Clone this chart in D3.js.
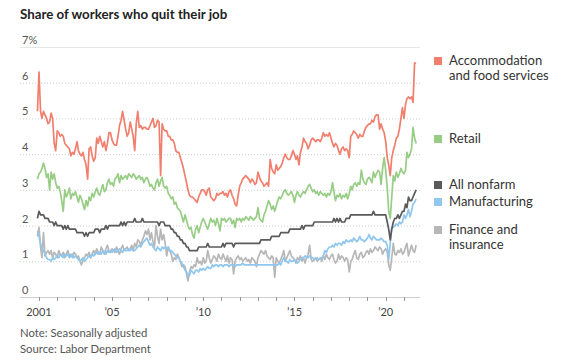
<!DOCTYPE html>
<html><head><meta charset="utf-8">
<script src="https://cdn.jsdelivr.net/npm/d3@7"></script>
<style>
body{margin:0;background:#fff;}
svg{display:block;font-family:Lato,"Noto Sans",sans-serif;}
</style></head><body>
<svg id="chart" width="564" height="360"></svg>
<script>
// ---- data (monthly, Dec 2000 – Sep 2021) ----
const startMonth = "2000-12";
const accommodation = [5.2,
6.3,5.2,5.0,5.2,5.1,5.0,4.85,4.9,5.15,5.0,4.3,4.1,
4.65,4.6,4.5,4.55,4.5,4.3,4.25,4.2,4.15,3.95,4.05,4.0,
4.15,4.35,4.1,4.0,3.95,4.05,3.85,3.7,3.3,4.15,4.2,3.95,
3.8,3.9,4.45,4.3,4.5,4.35,4.2,4.35,4.1,4.3,4.6,4.6,
4.4,4.3,4.25,4.25,4.5,4.8,4.95,5.2,4.95,4.7,4.5,4.6,
4.9,4.7,4.5,4.1,4.85,5.2,4.75,4.8,4.7,4.75,4.75,4.7,
4.7,4.8,4.9,5.0,4.75,4.8,4.95,4.9,3.4,4.85,4.7,4.65,
4.65,4.5,4.5,4.4,4.4,4.3,4.1,4.05,4.05,3.9,3.75,3.6,
3.4,3.2,3.0,2.85,2.8,2.8,2.75,2.7,2.65,2.8,2.9,3.0,
3.0,2.95,2.85,3.0,3.05,2.8,2.75,2.7,2.75,2.9,2.85,2.9,
2.9,2.95,2.85,2.9,2.8,2.95,3.0,2.85,2.75,2.6,2.55,2.85,
3.1,3.2,3.3,3.35,3.4,3.35,3.3,3.2,3.3,3.25,3.15,3.2,
3.5,3.35,3.25,3.2,3.1,3.15,3.2,3.1,3.85,3.6,3.5,3.45,
3.7,3.55,3.6,3.65,3.75,3.9,4.0,3.9,3.85,3.85,3.95,4.1,
4.0,3.85,3.95,3.7,4.05,4.2,4.45,4.35,4.3,4.15,4.25,4.4,
4.45,4.4,4.35,4.4,4.4,4.35,4.45,4.6,4.5,4.55,4.5,4.6,
4.45,4.3,4.2,4.3,4.25,4.1,4.0,4.15,4.2,4.1,4.15,4.1,
3.9,4.5,4.55,4.65,4.6,4.55,4.45,4.55,4.5,4.5,4.65,4.75,
4.8,4.85,4.85,4.95,4.9,5.05,5.1,5.1,4.7,4.85,4.7,4.6,
4.35,3.9,3.7,3.4,3.9,4.1,4.25,4.45,4.5,4.7,5.0,5.3,
5.0,5.4,5.55,5.6,5.55,5.6,5.45,6.55,6.55];

const retail = [3.3,
3.45,3.5,3.6,3.75,3.6,3.35,3.45,3.0,3.5,3.3,3.45,3.2,
3.05,3.1,2.95,2.7,2.4,3.0,2.8,2.9,3.05,2.75,2.9,2.85,
2.95,2.8,2.65,2.85,2.75,2.6,2.45,2.7,2.55,2.8,2.7,2.9,
2.8,2.95,3.05,2.9,2.85,3.0,3.15,2.95,3.0,3.2,3.3,3.15,
3.2,3.1,3.3,3.35,3.45,3.2,3.4,3.3,3.35,3.4,3.3,3.45,
3.4,3.35,3.45,3.4,3.3,3.35,3.4,3.3,3.35,3.2,3.3,3.35,
3.25,3.1,3.15,3.05,3.0,3.2,3.3,3.1,3.25,3.35,3.1,3.05,
3.1,2.9,2.85,2.75,2.8,2.6,2.65,2.5,2.45,2.4,2.25,2.1,
2.3,2.15,2.0,1.9,1.95,1.75,1.65,1.9,2.0,1.8,1.95,2.1,
2.2,2.1,2.0,1.9,2.05,2.2,2.1,2.15,2.0,2.2,2.05,1.85,
2.2,2.15,2.2,2.1,2.15,2.2,2.2,2.05,2.15,1.95,2.2,2.15,
2.2,2.1,2.2,2.15,2.25,2.2,2.15,2.25,2.2,2.15,2.2,2.25,
2.5,2.2,2.15,2.1,2.3,2.4,2.55,2.7,2.6,2.45,2.55,2.4,
2.55,2.7,2.8,2.75,2.85,2.95,3.0,2.9,2.85,2.9,2.95,2.85,
2.65,2.85,2.95,2.85,2.8,2.9,2.95,2.9,3.0,3.1,3.15,3.05,
2.95,3.0,2.9,2.95,2.85,2.95,2.9,2.85,2.9,2.8,2.9,2.85,
2.95,3.2,2.95,2.7,2.85,2.8,2.9,2.75,2.85,2.8,2.9,2.75,
2.9,3.1,3.0,3.15,3.2,3.1,3.2,3.15,3.55,3.3,3.2,3.15,
3.3,3.35,3.3,3.2,3.5,3.35,3.45,3.55,3.5,3.15,3.6,3.9,
3.55,3.05,2.4,2.2,2.8,3.4,3.25,3.5,3.35,3.45,3.6,3.5,
3.45,3.55,4.05,3.9,4.0,4.15,4.75,4.45,4.3];

const allNonfarm = [2.2,
2.4,2.3,2.3,2.3,2.2,2.2,2.2,2.1,2.1,2.1,2.0,2.1,
2.0,2.0,2.0,2.0,1.9,2.0,1.9,2.0,1.9,1.9,1.9,1.9,
1.9,1.8,1.8,1.8,1.8,1.8,1.7,1.8,1.7,1.8,1.8,1.8,
1.8,1.9,1.9,1.9,1.8,1.9,1.9,1.9,2.0,1.9,2.0,2.0,
2.0,2.0,2.0,2.0,2.0,2.0,2.1,2.0,2.1,2.0,2.1,2.1,
2.1,2.1,2.1,2.2,2.1,2.1,2.1,2.1,2.2,2.1,2.1,2.1,
2.1,2.1,2.1,2.1,2.1,2.1,2.1,2.0,2.1,2.1,2.1,2.0,
2.0,2.0,2.0,1.9,1.9,1.8,1.8,1.7,1.7,1.6,1.6,1.5,
1.5,1.4,1.4,1.3,1.3,1.3,1.3,1.3,1.3,1.4,1.4,1.4,
1.4,1.4,1.4,1.5,1.4,1.4,1.4,1.4,1.4,1.4,1.4,1.4,
1.4,1.5,1.4,1.5,1.5,1.5,1.5,1.5,1.4,1.5,1.5,1.5,
1.5,1.5,1.5,1.5,1.5,1.5,1.5,1.5,1.5,1.5,1.5,1.5,
1.5,1.5,1.6,1.6,1.6,1.6,1.6,1.6,1.6,1.7,1.7,1.7,
1.7,1.7,1.7,1.8,1.8,1.8,1.8,1.8,1.8,1.9,1.9,1.9,
1.9,1.9,1.9,1.9,1.9,2.0,1.9,2.0,2.0,2.0,2.0,2.0,
2.0,2.1,2.1,2.1,2.1,2.1,2.1,2.1,2.1,2.1,2.1,2.1,
2.1,2.1,2.2,2.1,2.2,2.1,2.2,2.1,2.1,2.1,2.2,2.2,
2.2,2.3,2.3,2.3,2.3,2.3,2.3,2.3,2.3,2.3,2.3,2.3,
2.3,2.3,2.3,2.3,2.4,2.3,2.3,2.3,2.3,2.3,2.3,2.3,
2.3,2.1,1.9,1.6,1.9,2.1,2.2,2.2,2.3,2.2,2.3,2.4,
2.4,2.6,2.5,2.8,2.7,2.7,2.8,2.9,3.0];

const manufacturing = [1.85,
1.7,1.5,1.35,1.3,1.2,1.1,1.05,1.05,1.0,1.1,1.05,1.1,
1.15,1.1,1.2,1.15,1.1,1.2,1.15,1.2,1.1,1.15,1.2,1.1,
1.15,1.1,1.05,1.0,1.05,1.1,1.0,1.05,1.1,1.15,1.1,1.2,
1.15,1.2,1.25,1.2,1.25,1.2,1.3,1.25,1.2,1.3,1.25,1.3,
1.25,1.3,1.35,1.25,1.3,1.35,1.3,1.25,1.35,1.3,1.3,1.35,
1.3,1.35,1.3,1.3,1.35,1.4,1.45,1.4,1.5,1.55,1.6,1.65,
1.55,1.45,1.5,1.4,1.35,1.3,1.4,1.35,1.3,1.4,1.35,1.4,
1.35,1.4,1.3,1.3,1.25,1.2,1.15,1.1,1.1,1.0,0.95,0.85,
0.75,0.7,0.6,0.6,0.75,0.7,0.65,0.75,0.75,0.7,0.8,0.75,
0.8,0.75,0.8,0.85,0.8,0.8,0.9,0.85,0.9,0.9,0.85,0.9,
0.9,0.85,0.9,0.9,0.9,0.85,0.9,0.9,0.9,0.85,0.9,0.9,
0.9,0.9,0.95,0.9,0.9,0.9,0.9,0.9,0.9,0.9,0.9,0.9,
0.9,0.9,0.9,0.9,0.9,0.9,0.9,0.9,0.9,0.9,0.9,0.9,
0.9,0.9,0.95,0.9,1.0,1.1,1.0,1.0,0.95,1.05,1.0,1.0,
1.05,1.0,0.95,1.0,1.05,1.1,1.1,1.15,1.1,1.1,1.15,1.1,
1.1,1.05,1.05,1.1,1.05,1.05,1.1,1.15,1.3,1.25,1.35,1.4,
1.4,1.45,1.4,1.5,1.45,1.5,1.5,1.45,1.55,1.5,1.6,1.55,
1.55,1.6,1.55,1.65,1.6,1.55,1.6,1.7,1.6,1.6,1.55,1.6,
1.65,1.75,1.65,1.6,1.7,1.65,1.6,1.6,1.6,1.65,1.6,1.55,
1.55,1.45,1.05,1.5,1.95,1.95,2.0,2.05,2.0,2.1,2.05,2.1,
2.3,2.2,2.3,2.45,2.25,2.4,2.6,2.65,2.75];

const finance = [1.7,
1.95,1.4,1.1,1.8,1.15,1.25,1.3,1.2,1.3,1.1,1.25,1.2,
1.1,1.3,1.2,1.15,1.25,1.1,1.2,1.3,1.15,1.2,1.1,1.25,
1.2,1.1,1.15,1.0,0.9,1.05,1.1,1.2,1.15,1.25,1.1,1.2,
1.3,1.2,1.35,1.25,1.2,1.4,1.3,1.2,1.35,1.45,1.3,1.25,
1.35,1.3,1.25,1.4,1.3,1.2,1.35,1.45,1.3,1.35,1.4,1.3,
1.35,1.45,1.3,1.5,1.4,1.6,1.55,1.45,1.6,1.7,1.85,1.75,
1.9,1.6,1.8,1.55,1.4,2.0,1.7,1.5,1.9,1.6,1.75,1.5,
1.15,1.4,1.3,1.2,1.0,1.1,1.05,1.2,1.1,1.0,0.85,0.9,
0.85,0.65,0.45,0.7,0.85,0.8,0.9,0.85,1.1,0.95,1.0,0.9,
1.1,0.95,1.0,1.3,1.1,0.95,1.05,1.15,1.1,1.0,1.2,1.1,
1.05,1.2,1.1,1.0,1.15,0.95,1.1,1.05,0.65,1.0,1.1,1.15,
1.05,1.1,1.0,1.05,1.1,1.0,1.05,0.95,1.1,1.05,1.0,0.85,
1.1,1.2,1.3,1.25,1.2,1.3,1.15,1.1,1.05,1.15,1.1,0.55,
1.1,1.0,0.95,1.05,1.15,1.3,1.0,1.1,1.2,1.3,1.15,1.1,
1.05,0.95,1.1,1.05,1.15,1.0,1.1,0.95,1.1,1.2,1.45,1.05,
1.0,1.05,1.1,1.0,1.05,1.1,1.0,1.15,1.05,1.2,1.1,1.05,
1.15,1.2,1.05,0.95,1.0,1.2,1.05,1.15,1.1,1.0,1.1,1.05,
0.7,1.0,1.05,1.2,1.3,1.1,1.05,1.2,1.25,1.1,1.15,1.25,
1.3,1.2,1.35,1.25,1.3,1.4,1.35,1.3,1.4,1.35,1.2,1.3,
1.35,1.25,0.9,0.75,1.1,1.5,1.2,1.18,1.3,1.25,1.35,1.2,
1.25,1.4,1.5,1.15,1.3,1.45,1.3,1.25,1.45];

const seriesNames = ["Finance and insurance","Manufacturing","All nonfarm","Retail","Accommodation and food services"];
const seriesValues = [finance, manufacturing, allNonfarm, retail, accommodation];
const seriesColors = ["#b7b7b7","#8fc7ee","#5a5a5a","#97cd85","#f07f6e"];
const yTicks = [0,1,2,3,4,5,6,7];
const yTickLabels = ["0","1","2","3","4","5","6","7%"];
const xTickYears = [2001,2005,2010,2015,2020];
const xTickLabels = ["2001","\u201905","\u201910","\u201915","\u201920"];
const legendItems = [
  {lines:["Accommodation","and food services"], color:"#f07f6e"},
  {lines:["Retail"], color:"#97cd85"},
  {lines:["All nonfarm"], color:"#5a5a5a"},
  {lines:["Manufacturing"], color:"#8fc7ee"},
  {lines:["Finance and","insurance"], color:"#b7b7b7"}
];
const title = "Share of workers who quit their job";
const notes = ["Note: Seasonally adjusted","Source: Labor Department"];

// ---- drawing ----
const svg = d3.select("#chart");
const parse = d3.timeParse("%Y-%m");
const months = d3.timeMonth.range(parse(startMonth), d3.timeMonth.offset(parse(startMonth), accommodation.length));

const x = d3.scaleTime().domain([new Date(2001,0,1), new Date(2020,0,1)]).range([39, 385.7]);
const y = d3.scaleLinear().domain([0,7]).range([297, 47]);

svg.append("text").attr("x",20).attr("y",19).attr("font-size",13.3).attr("font-weight",700)
  .attr("fill","#222").text(title);

// gridlines
const gridG = svg.append("g");
gridG.selectAll("line").data(yTicks).join("line")
  .attr("x1",20).attr("x2",420)
  .attr("y1",d=>y(d)+0.5).attr("y2",d=>y(d)+0.5)
  .attr("stroke",d=> d===7 ? "#e4e8e4" : "#cfcfcf")
  .attr("stroke-dasharray",d=> (d===0||d===7) ? null : "1,2");
gridG.selectAll("text").data(yTicks).join("text")
  .attr("x",22).attr("y",d=>y(d)-3)
  .attr("font-size",11).attr("fill","#555")
  .text((d,i)=>yTickLabels[i]);

// x axis ticks
const yearTicks = d3.range(2001, 2022).map(yr=>new Date(yr,0,1));
svg.append("g").selectAll("line").data(yearTicks).join("line")
  .attr("x1",d=>Math.round(x(d))+0.5).attr("x2",d=>Math.round(x(d))+0.5)
  .attr("y1",297).attr("y2",301).attr("stroke","#999");
svg.append("g").selectAll("text").data(xTickYears).join("text")
  .attr("x",d=>x(new Date(d,0,1))).attr("y",316).attr("text-anchor","middle")
  .attr("font-size",11).attr("fill","#444")
  .text((d,i)=>xTickLabels[i]);

// lines
const line = d3.line().x((d,i)=>x(months[i])).y(d=>y(d));
svg.append("g").selectAll("path").data(seriesValues).join("path")
  .attr("fill","none").attr("stroke",(d,i)=>seriesColors[i])
  .attr("stroke-width",1.7).attr("stroke-linejoin","round")
  .attr("d",d=>line(d));

// legend
const legendTop = [65, 143, 189, 206, 234];
const lg = svg.append("g");
legendItems.forEach((it,k)=>{
  const by = legendTop[k];
  lg.append("rect").attr("x",434).attr("y",by-8).attr("width",8).attr("height",8).attr("fill",it.color);
  it.lines.forEach((t,j)=>{
    lg.append("text").attr("x",449).attr("y",by+j*15).attr("font-size",13).attr("fill","#333").text(t);
  });
});

// notes
notes.forEach((t,i)=>{
  svg.append("text").attr("x",20).attr("y",337+i*16).attr("font-size",11.3).attr("fill","#555").text(t);
});
</script>
</body></html>
